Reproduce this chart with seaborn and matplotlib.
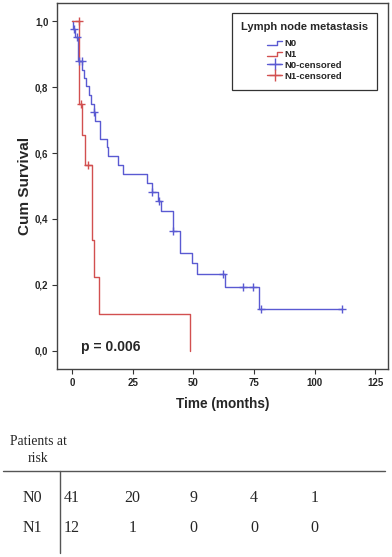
import matplotlib
matplotlib.use("Agg")
import matplotlib.pyplot as plt
import seaborn as sns
import pandas as pd
from matplotlib.lines import Line2D
from matplotlib.legend_handler import HandlerBase

# ========== Data ==========
# step curves: time of each step (months) and survival after the step
n0_time = [0, 0.5, 1.4, 2.4, 4.2, 5.1, 5.8, 6.9, 7.8, 9.0, 9.3, 11.5, 14.3, 15.0,
           19.1, 21.2, 30.8, 32.9, 35.3, 36.7, 41.5, 44.5, 49.4, 51.4, 63.1, 77.1, 111.5]
n0_surv = [1.0, 0.976, 0.951, 0.878, 0.852, 0.827, 0.802, 0.776, 0.750, 0.724, 0.698,
           0.643, 0.617, 0.591, 0.564, 0.537, 0.510, 0.483, 0.455, 0.424, 0.364, 0.298,
           0.266, 0.232, 0.195, 0.127, 0.127]
n1_time = [0, 3.0, 4.2, 5.4, 8.1, 9.1, 11.1, 48.7]
n1_surv = [1.0, 0.75, 0.656, 0.5625, 0.3375, 0.225, 0.1125, 0.0]

# censored observations
n0_cens_time = [0.95, 1.9, 3.0, 4.0, 9.1, 32.9, 36.0, 41.8, 62.4, 70.6, 74.8, 77.9, 111.5]
n0_cens_surv = [0.976, 0.951, 0.878, 0.878, 0.724, 0.483, 0.455, 0.364, 0.232, 0.195,
                0.195, 0.127, 0.127]
n1_cens_time = [3.0, 3.6, 6.7]
n1_cens_surv = [1.0, 0.75, 0.5625]

risk_times = [0, 25, 50, 75, 100]
risk_n0 = [41, 20, 9, 4, 1]
risk_n1 = [12, 1, 0, 0, 0]

groups = ["N0", "N1"]
blue = "#5a5ad2"
red = "#d25050"

sns.set_style("white")
plt.rcParams["font.family"] = ["Liberation Sans", "DejaVu Sans"]

W, H = 392, 557
fig = plt.figure(figsize=(W / 100, H / 100), dpi=100)

# axes box in pixels: left 57, right 388, top 3, bottom 369
ax = fig.add_axes([57 / W, 1 - 369 / H, 331 / W, 366 / H])

curves = pd.concat([
    pd.DataFrame({"time": n0_time, "surv": n0_surv, "group": "N0"}),
    pd.DataFrame({"time": n1_time, "surv": n1_surv, "group": "N1"}),
])
sns.lineplot(data=curves, x="time", y="surv", hue="group", palette=[blue, red],
             drawstyle="steps-post", linewidth=1.0, legend=False, ax=ax,
             estimator=None, sort=False)

cens = pd.concat([
    pd.DataFrame({"time": n0_cens_time, "surv": n0_cens_surv, "group": "N0"}),
    pd.DataFrame({"time": n1_cens_time, "surv": n1_cens_surv, "group": "N1"}),
])
for g, c in zip(groups, [blue, red]):
    sub = cens[cens["group"] == g]
    ax.plot(sub["time"], sub["surv"], linestyle="none", marker="+",
            markersize=6, markeredgewidth=1.0, color=c, zorder=3)

ax.set_xlim(-6.2, 130.3)
ax.set_ylim(-0.055, 1.055)
ax.set_xticks([0, 25, 50, 75, 100, 125])
ax.set_yticks([0, 0.2, 0.4, 0.6, 0.8, 1.0])
ax.set_yticklabels(["0,0", "0,2", "0,4", "0,6", "0,8", "1,0"])
for lab in ax.get_xticklabels() + ax.get_yticklabels():
    lab.set_fontweight("bold")
    lab.set_fontsize(7)
ax.tick_params(axis="both", direction="out", length=3.8, width=0.8, color="#333333",
               pad=2.5, left=True, bottom=True)
for s in ax.spines.values():
    s.set_color("#444444")
    s.set_linewidth(1.0)

ax.set_xlabel("Time (months)", fontsize=9.8, fontweight="bold", labelpad=7)
ax.set_ylabel("Cum Survival", fontsize=11, fontweight="bold", labelpad=2)

ax.text(3.7, 0.013, "p = 0.006", fontsize=10, fontweight="bold", va="center", ha="left")


# step shaped legend handle like SPSS
class StepHandler(HandlerBase):
    def create_artists(self, legend, orig_handle, xdescent, ydescent, width, height,
                       fontsize, trans):
        x0, y0 = -xdescent, -ydescent
        xs = [x0, x0 + 0.62 * width, x0 + 0.62 * width, x0 + width]
        ys = [y0 + 0.15 * height, y0 + 0.15 * height, y0 + 0.8 * height, y0 + 0.8 * height]
        ln = Line2D(xs, ys, color=orig_handle.get_color(), lw=1.0, transform=trans)
        return [ln]


h_n0 = Line2D([], [], color=blue)
h_n1 = Line2D([], [], color=red)
h_c0 = Line2D([], [], color=blue, marker="+", markersize=8, lw=1.0)
h_c1 = Line2D([], [], color=red, marker="+", markersize=8, lw=1.0)
leg = fig.legend([h_n0, h_n1, h_c0, h_c1], ["N0", "N1", "N0-censored", "N1-censored"],
                 title="Lymph node metastasis", loc="upper right",
                 bbox_to_anchor=(377 / W, 1 - 13 / H), bbox_transform=fig.transFigure,
                 handler_map={h_n0: StepHandler(), h_n1: StepHandler()},
                 prop={"weight": "bold", "size": 6.8}, title_fontproperties={"weight": "bold", "size": 8},
                 frameon=True, fancybox=False, edgecolor="#333333", framealpha=1,
                 handlelength=1.6, handletextpad=0.2, labelspacing=0.2,
                 borderpad=0.95, borderaxespad=0)
leg.get_frame().set_linewidth(0.9)
leg._legend_box.sep = 5

# ========== Patients at risk table ==========
tab = fig.add_axes([57 / W, 0, 331 / W, (557 - 475) / H])
tab.set_xlim(ax.get_xlim())
tab.set_ylim(557, 475)
tab.axis("off")
serif = ["Liberation Serif", "DejaVu Serif"]
for t, a, b in zip(risk_times, risk_n0, risk_n1):
    tab.text(t, 498, str(a), ha="center", va="center", fontsize=11.5, family=serif)
    tab.text(t, 528, str(b), ha="center", va="center", fontsize=11.5, family=serif)

fig.text(32 / W, 1 - 498 / H, "N0", ha="center", va="center", fontsize=11.5, family=serif)
fig.text(32 / W, 1 - 528 / H, "N1", ha="center", va="center", fontsize=11.5, family=serif)
fig.text(38 / W, 1 - 450 / H, "Patients at\nrisk", ha="center", va="center",
         fontsize=9.8, family=serif, linespacing=1.35)

fig.add_artist(Line2D([3 / W, 385 / W], [1 - 471 / H, 1 - 471 / H],
                      transform=fig.transFigure, color="#555555", lw=1.0))
fig.add_artist(Line2D([60 / W, 60 / W], [1 - 471 / H, 1 - 553 / H],
                      transform=fig.transFigure, color="#555555", lw=1.0))

fig.savefig("out.png", dpi=100)
